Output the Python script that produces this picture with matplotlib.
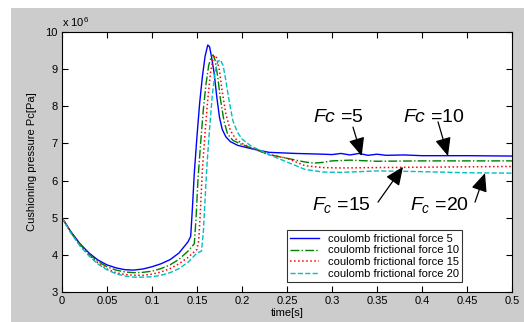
import numpy as np
import matplotlib as mpl
mpl.use('Agg')
import matplotlib.pyplot as plt
from matplotlib.patches import Rectangle
from matplotlib.ticker import FuncFormatter

plt.rcParams['font.family'] = ['Liberation Sans', 'DejaVu Sans']
plt.rcParams['mathtext.fontset'] = 'custom'
plt.rcParams['mathtext.rm'] = 'Liberation Sans'
plt.rcParams['mathtext.it'] = 'Liberation Sans:italic'

# pressure values in units of 1e6 Pa
t5 = [0, 0.01, 0.02, 0.03, 0.04, 0.05, 0.06, 0.07, 0.08, 0.09, 0.10, 0.11, 0.12, 0.13,
      0.14, 0.143, 0.145, 0.147, 0.150, 0.153, 0.156, 0.159, 0.162, 0.164, 0.166, 0.169,
      0.172, 0.175, 0.178, 0.182, 0.187, 0.195, 0.21, 0.23, 0.26, 0.29, 0.30, 0.31, 0.32,
      0.33, 0.34, 0.35, 0.36, 0.38, 0.40, 0.45, 0.5]
p5 = [5.0, 4.62, 4.3, 4.05, 3.86, 3.73, 3.65, 3.6, 3.59, 3.62, 3.68, 3.76, 3.87, 4.05,
      4.35, 4.5, 5.3, 6.2, 7.2, 8.1, 8.8, 9.35, 9.65, 9.6, 9.35, 8.9,
      8.25, 7.7, 7.38, 7.18, 7.05, 6.95, 6.86, 6.76, 6.73, 6.71, 6.70, 6.73, 6.69,
      6.73, 6.68, 6.71, 6.68, 6.69, 6.67, 6.67, 6.66]

t10 = [0, 0.01, 0.02, 0.03, 0.04, 0.05, 0.06, 0.07, 0.08, 0.09, 0.10, 0.11, 0.12, 0.13,
       0.14, 0.147, 0.149, 0.151, 0.154, 0.157, 0.160, 0.163, 0.166, 0.168, 0.170, 0.173,
       0.176, 0.180, 0.184, 0.19, 0.2, 0.21, 0.23, 0.25, 0.27, 0.28, 0.29, 0.3, 0.32,
       0.35, 0.4, 0.45, 0.5]
p10 = [5.0, 4.6, 4.28, 4.02, 3.82, 3.68, 3.59, 3.54, 3.52, 3.53, 3.56, 3.63, 3.73, 3.88,
       4.1, 4.3, 5.0, 6.0, 7.0, 7.9, 8.6, 9.1, 9.35, 9.38, 9.25, 8.8,
       8.2, 7.6, 7.25, 7.08, 6.97, 6.88, 6.7, 6.6, 6.5, 6.47, 6.49, 6.53, 6.55,
       6.52, 6.53, 6.53, 6.53]

t15 = [0, 0.01, 0.02, 0.03, 0.04, 0.05, 0.06, 0.07, 0.08, 0.09, 0.10, 0.11, 0.12, 0.13,
       0.14, 0.15, 0.152, 0.154, 0.156, 0.159, 0.162, 0.165, 0.168, 0.170, 0.172, 0.175,
       0.178, 0.182, 0.187, 0.193, 0.2, 0.21, 0.23, 0.25, 0.27, 0.29, 0.31, 0.35, 0.4,
       0.45, 0.5]
p15 = [5.0, 4.6, 4.26, 4.0, 3.78, 3.62, 3.52, 3.47, 3.45, 3.45, 3.48, 3.54, 3.63, 3.76,
       3.93, 4.15, 4.4, 5.3, 6.3, 7.3, 8.2, 8.9, 9.3, 9.37, 9.3, 8.95,
       8.4, 7.8, 7.35, 7.12, 7.0, 6.88, 6.7, 6.6, 6.4, 6.35, 6.34, 6.35, 6.36,
       6.37, 6.38]

t20 = [0, 0.01, 0.02, 0.03, 0.04, 0.05, 0.06, 0.07, 0.08, 0.09, 0.10, 0.11, 0.12, 0.13,
       0.14, 0.15, 0.155, 0.157, 0.159, 0.161, 0.164, 0.167, 0.170, 0.173, 0.176, 0.179,
       0.182, 0.186, 0.190, 0.195, 0.2, 0.21, 0.23, 0.25, 0.27, 0.29, 0.31, 0.33, 0.35,
       0.38, 0.4, 0.45, 0.5]
p20 = [5.0, 4.58, 4.24, 3.97, 3.75, 3.6, 3.49, 3.43, 3.4, 3.4, 3.41, 3.45, 3.52, 3.63,
       3.8, 4.05, 4.1, 4.6, 5.5, 6.4, 7.4, 8.3, 8.9, 9.2, 9.25, 9.1,
       8.7, 8.1, 7.6, 7.3, 7.12, 6.93, 6.7, 6.5, 6.3, 6.23, 6.22, 6.24, 6.26,
       6.25, 6.24, 6.21, 6.2]

labels = ['coulomb frictional force 5', 'coulomb frictional force 10',
          'coulomb frictional force 15', 'coulomb frictional force 20']

fig = plt.figure(figsize=(5.24, 3.22), dpi=100)
fig.patch.set_facecolor('white')
fig.add_artist(Rectangle((11/524, 0), 1, 1 - 8/322, transform=fig.transFigure,
                         facecolor='#cccccc', edgecolor='none', zorder=-5))
ax = fig.add_axes([62/524, 30/322, 450/524, 260/322])

ax.plot(t5, np.array(p5)*1e6, '-', color='b', lw=1, label=labels[0])
ax.plot(t10, np.array(p10)*1e6, '-.', color=(0, 0.5, 0), lw=1, label=labels[1])
ax.plot(t15, np.array(p15)*1e6, ':', color='r', lw=1.1, label=labels[2])
ax.plot(t20, np.array(p20)*1e6, '--', color=(0, 0.75, 0.75), lw=1, label=labels[3])

ax.set_xlim(0, 0.5)
ax.set_ylim(3e6, 10e6)
ax.set_xticks(np.arange(0, 0.501, 0.05))
ax.set_xticklabels(['0', '0.05', '0.1', '0.15', '0.2', '0.25', '0.3', '0.35', '0.4', '0.45', '0.5'])
ax.set_yticks(np.arange(3e6, 10.1e6, 1e6))
ax.yaxis.set_major_formatter(FuncFormatter(lambda v, p: '%d' % round(v/1e6)))
ax.tick_params(direction='in', top=True, right=True, length=4, width=0.8, labelsize=8, pad=3)
for s in ax.spines.values():
    s.set_linewidth(0.8)
ax.text(0, 1.01, 'x 10$^6$', transform=ax.transAxes, fontsize=8, va='bottom', ha='left')

ax.set_xlabel('time[s]', fontsize=8, labelpad=1)
ax.set_ylabel('Cushioning pressure Pc[Pa]', fontsize=8, labelpad=6)

leg = ax.legend(loc='lower left', bbox_to_anchor=(0.5, 0.038), fontsize=8,
                frameon=True, fancybox=False, handlelength=2.6, labelspacing=0.15,
                borderpad=0.3, handletextpad=0.8, borderaxespad=0)
leg.get_frame().set_edgecolor('black')
leg.get_frame().set_linewidth(0.8)

# annotations
notes = [('$Fc$ =5', 0.279, 7.71, (0.3233, 7.44), (0.333, 6.66)),
         ('$Fc$ =10', 0.379, 7.71, (0.4178, 7.58), (0.4289, 6.66)),
         ('$F_c$ =15', 0.2778, 5.34, (0.3511, 5.42), (0.3789, 6.37)),
         ('$F_c$ =20', 0.3867, 5.34, (0.4589, 5.42), (0.47, 6.20))]
for txt, tx, ty, start, tip in notes:
    ax.text(tx, ty*1e6, txt, fontsize=14, va='center', ha='left')
    ax.annotate('', xy=(tip[0], tip[1]*1e6), xytext=(start[0], start[1]*1e6),
                arrowprops=dict(arrowstyle='-|>,head_length=0.8,head_width=0.35',
                                mutation_scale=14, color='k', lw=0.9,
                                shrinkA=0, shrinkB=0))

fig.savefig('out.png', dpi=100)
